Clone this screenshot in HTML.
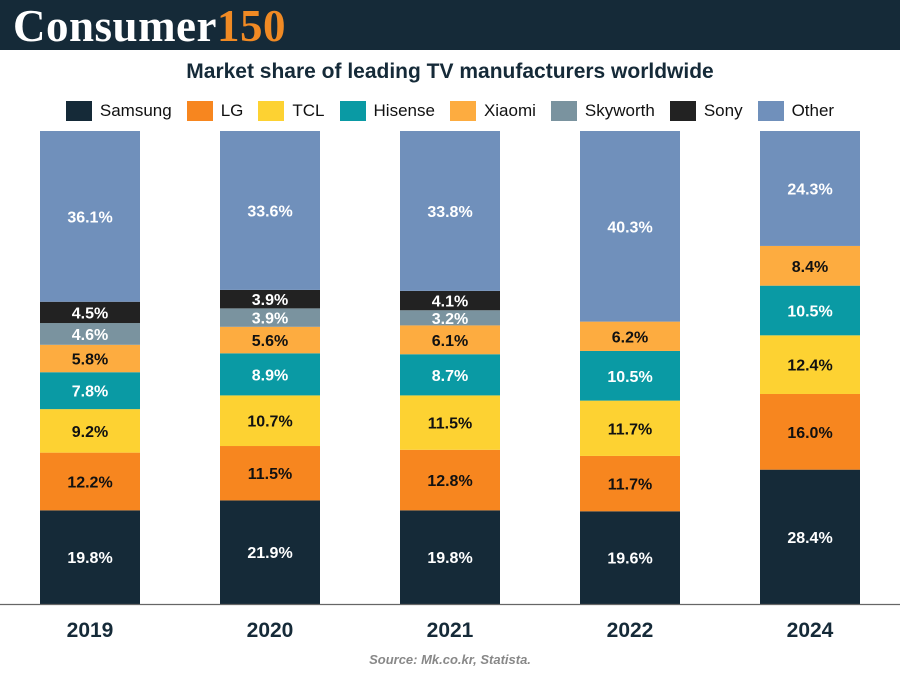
<!DOCTYPE html>
<html><head><meta charset="utf-8"><style>
body{margin:0;width:900px;height:675px;background:#fff;font-family:"Liberation Sans",sans-serif;overflow:hidden;position:relative}
#hdr{position:absolute;left:0;top:0;width:900px;height:50px;background:#152a38}
#logo{position:absolute;left:13px;top:0px;font-family:"Liberation Serif",serif;font-weight:bold;font-size:45px;color:#fff;letter-spacing:0.5px}
#logo span{color:#f08a24}
#title{position:absolute;top:60px;width:900px;text-align:center;font-weight:bold;font-size:21px;color:#152a38}
#legend{position:absolute;top:101px;left:0;width:900px;display:flex;justify-content:center;gap:15px;font-size:17px;color:#111}
.li{display:flex;align-items:center}
.sw{width:26px;height:20px;margin-right:8px}
#src{position:absolute;top:652px;left:0;width:900px;text-align:center;font-size:13px;font-style:italic;font-weight:bold;color:#888}
</style></head><body>
<div id="hdr"><div id="logo">Consumer<span>150</span></div></div>
<div id="title">Market share of leading TV manufacturers worldwide</div>
<div id="legend"></div>
<svg id="chart" width="900" height="675" style="position:absolute;left:0;top:0"></svg>
<div id="src">Source: Mk.co.kr, Statista.</div>
<script>
const years=["2019","2020","2021","2022","2024"];
const series=["Samsung","LG","TCL","Hisense","Xiaomi","Skyworth","Sony","Other"];
const samsung=[19.8,21.9,19.8,19.6,28.4];
const lg=[12.2,11.5,12.8,11.7,16.0];
const tcl=[9.2,10.7,11.5,11.7,12.4];
const hisense=[7.8,8.9,8.7,10.5,10.5];
const xiaomi=[5.8,5.6,6.1,6.2,8.4];
const skyworth=[4.6,3.9,3.2,0,0];
const sony=[4.5,3.9,4.1,0,0];
const other=[36.1,33.6,33.8,40.3,24.3];
const values=[samsung,lg,tcl,hisense,xiaomi,skyworth,sony,other];
const colors=["#152a38","#f7861f","#fdd232","#0a9aa4","#fdac40","#7a939f","#222222","#7090bb"];
const textCol=["#fff","#111","#111","#fff","#111","#fff","#fff","#fff"];
const NS="http://www.w3.org/2000/svg";
const svg=document.getElementById('chart');
const y0=604,y1=131,x0=40,step=180,bw=100;
const yS=v=>(y1-y0)*v/100;
const xS=i=>x0+i*step;
const leg=document.getElementById('legend');
series.forEach((s,k)=>{
  const d=document.createElement('div');d.className='li';
  
  
  d.innerHTML='<div class="sw" style="background:'+colors[k]+'"></div>'+s;
  leg.appendChild(d);
});
years.forEach((yr,i)=>{
  let acc=0;
  values.forEach((arr,k)=>{
    const v=arr[i]; if(!v) return;
    const tot=values.reduce((a,b)=>a+b[i],0);
    const top=y0+yS((acc+v)/tot*100), bot=y0+yS(acc/tot*100);
    acc+=v;
    const r=document.createElementNS(NS,'rect');
    r.setAttribute('x',xS(i));r.setAttribute('y',top);r.setAttribute('width',bw);r.setAttribute('height',bot-top);
    r.setAttribute('fill',colors[k]);
    
    
    svg.appendChild(r);
    const t=document.createElementNS(NS,'text');
    t.setAttribute('x',xS(i)+bw/2);t.setAttribute('y',(top+bot)/2+6);
    t.setAttribute('text-anchor','middle');t.setAttribute('font-size','16');t.setAttribute('font-weight','bold');
    t.setAttribute('font-family','Liberation Sans, sans-serif');t.setAttribute('fill',textCol[k]);
    t.textContent=v.toFixed(1)+'%';
    
    
    svg.appendChild(t);
  });
  const l=document.createElementNS(NS,'text');
  l.setAttribute('x',xS(i)+bw/2);l.setAttribute('y',637);l.setAttribute('text-anchor','middle');
  l.setAttribute('font-size','21');l.setAttribute('font-weight','bold');l.setAttribute('fill','#152a38');
  l.setAttribute('font-family','Liberation Sans, sans-serif');
  l.textContent=yr;
  
  
  svg.appendChild(l);
});
const ax=document.createElementNS(NS,'line');
ax.setAttribute('x1',0);ax.setAttribute('x2',900);ax.setAttribute('y1',604.5);ax.setAttribute('y2',604.5);
ax.setAttribute('stroke','#666');ax.setAttribute('stroke-width','1.2');


svg.appendChild(ax);
</script>
</body></html>
